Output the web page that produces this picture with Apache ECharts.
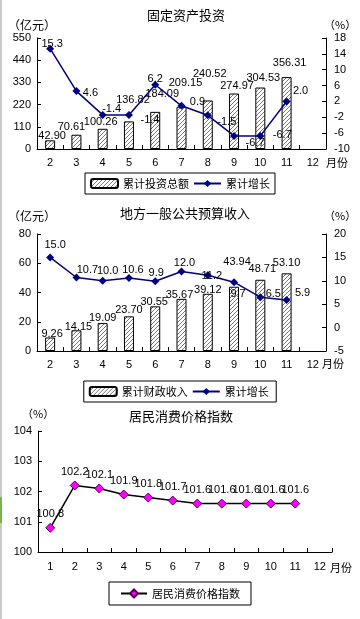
<!DOCTYPE html>
<html><head><meta charset="utf-8">
<script src="https://cdn.jsdelivr.net/npm/echarts@6/dist/echarts.min.js"></script>
<style>html,body{margin:0;padding:0;background:#fff}#c{width:360px;height:619px}</style>
</head><body><div id="c"></div>
<script>
// ---- Data ----
const months1 = ['2','3','4','5','6','7','8','9','10','11','12'];
const investTotal = [42.90, 70.61, 100.26, 136.82, 184.09, 209.15, 240.52, 274.97, 304.53, 356.31];
const investGrowth = [15.3, 4.6, -1.4, -1.4, 6.2, 0.9, -1.5, -6.7, -6.7, 2.0];
const investLeftTicks = [0, 110, 220, 330, 440, 550];
const investRightTicks = [-10, -6, -2, 2, 6, 10, 14, 18];

const months2 = ['2','3','4','5','6','7','8','9','10','11','12'];
const revenueTotal = [9.26, 14.15, 19.09, 23.70, 30.55, 35.67, 39.12, 43.94, 48.71, 53.10];
const revenueGrowth = [15.0, 10.7, 10.0, 10.6, 9.9, 12.0, 11.2, 9.7, 6.5, 5.9];
const revenueLeftTicks = [0, 20, 40, 60, 80];
const revenueRightTicks = [-5, 0, 5, 10, 15, 20];

const months3 = ['1','2','3','4','5','6','7','8','9','10','11','12'];
const cpi = [100.8, 102.2, 102.1, 101.9, 101.8, 101.7, 101.6, 101.6, 101.6, 101.6, 101.6];
const cpiTicks = [100, 101, 102, 103, 104];

// ---- Label nudges (style only, in pixels) ----
const investBarLabelNudge = [[2,1],[-5,-2],[-2,-1],[4,-16],[7,-12],[4,-18],[2,-21],[3,-2],[3,-4],[3,-9]];
const investLineLabelNudge = [[2,-5],[14,2],[9,-6],[21,5],[0,-6],[16,-4],[19,7],[21,7],[22,-1],[14,-10]];
const revenueBarLabelNudge = [[2,2],[2,2],[0,0],[0,-1],[-1,1],[-2,2],[0,2],[3,-19],[2,-5],[0,-5]];
const revenueLineLabelNudge = [[5,-12],[11,-8],[5,-10],[4,-8],[1,-8],[3,-8],[4,1],[4,12],[13,-3],[16,-7]];

// ---- Styles ----
const FONT = "'Liberation Sans', 'Noto Sans CJK SC', sans-serif";
const CJK = "'Noto Sans CJK SC', sans-serif";
const NAVY = '#000080';

function hatch(){
  const c = document.createElement('canvas');
  c.width = 4; c.height = 4;
  const x = c.getContext('2d');
  x.fillStyle = '#fff'; x.fillRect(0,0,4,4);
  x.strokeStyle = '#555'; x.lineWidth = 0.8;
  x.beginPath();
  x.moveTo(0,4); x.lineTo(4,0);
  x.moveTo(-1,1); x.lineTo(1,-1);
  x.moveTo(3,5); x.lineTo(5,3);
  x.stroke();
  return {image: c, repeat: 'repeat'};
}
const pattern = hatch();

const axisLine = {show: true, lineStyle: {color: '#000', width: 1}};
const tickIn = {show: true, inside: true, length: 4, lineStyle: {color: '#000'}};
const lbl = {color: '#000', fontSize: 11, fontFamily: FONT};

function xAxis(grid, cats, margin){
  return {type: 'category', gridIndex: grid, data: cats, boundaryGap: true,
    axisLine: axisLine, axisTick: Object.assign({}, tickIn, {alignWithLabel: false}),
    axisLabel: Object.assign({margin: margin, interval: 0}, lbl), splitLine: {show: false}};
}
function yAxis(grid, ticks, pos, margin){
  const mn = ticks[0], mx = ticks[ticks.length-1];
  return {type: 'value', gridIndex: grid, position: pos, min: mn, max: mx,
    axisLine: axisLine,
    axisTick: Object.assign({}, tickIn, {customValues: ticks}),
    axisLabel: Object.assign({margin: margin, customValues: ticks}, lbl),
    splitLine: {show: false}};
}
function withNudge(values, nudges){
  return values.map((v, i) => ({value: v, label: {offset: nudges[i]}}));
}

const chart = echarts.init(document.getElementById('c'), null, {renderer: 'canvas'});

function txt(x, y, s, size, align){
  return {type: 'text', x: x, y: y, style: {text: s, fontSize: size || 11, fontFamily: CJK,
    fill: '#000', align: align || 'left', verticalAlign: 'middle'}};
}

const barLabel = (dec) => ({show: true, position: 'top', distance: 0, color: '#000', fontSize: 11,
  fontFamily: FONT, formatter: p => p.value.toFixed(dec)});
const centerLabel = (dec) => ({show: true, position: 'inside', align: 'center', verticalAlign: 'middle',
  color: '#000', fontSize: 11, fontFamily: FONT, formatter: p => p.value.toFixed(dec)});

const option = {
  animation: false,
  backgroundColor: '#fff',
  grid: [
    {left: 37, right: 34, top: 38, height: 111},
    {left: 37, right: 34, top: 234, height: 117},
    {left: 38, right: 28, top: 431, height: 121}
  ],
  xAxis: [xAxis(0, months1, 8), xAxis(1, months2, 8), xAxis(2, months3, 9)],
  yAxis: [
    yAxis(0, investLeftTicks, 'left', 6),
    yAxis(0, investRightTicks, 'right', 8),
    yAxis(1, revenueLeftTicks, 'left', 6),
    yAxis(1, revenueRightTicks, 'right', 8),
    yAxis(2, cpiTicks, 'left', 6)
  ],
  legend: [
    {data: ['累计投资总额', '累计增长'], left: 'center', top: 173, padding: [5,5], itemGap: 4,
     itemWidth: 27, itemHeight: 9, borderColor: '#000', borderWidth: 1, selectedMode: false,
     textStyle: {fontSize: 11, fontFamily: CJK, color: '#000'}},
    {data: ['累计财政收入', '累计增长 '], left: 'center', top: 381, padding: [5,5], itemGap: 4,
     itemWidth: 27, itemHeight: 9, borderColor: '#000', borderWidth: 1, selectedMode: false,
     textStyle: {fontSize: 11, fontFamily: CJK, color: '#000'}},
    {data: ['居民消费价格指数'], left: 'center', top: 582, padding: [6,11],
     itemWidth: 26, itemHeight: 10, borderColor: '#000', borderWidth: 1, selectedMode: false,
     textStyle: {fontSize: 11, fontFamily: CJK, color: '#000'}}
  ],
  series: [
    {name: '累计投资总额', type: 'bar', xAxisIndex: 0, yAxisIndex: 0,
     data: withNudge(investTotal, investBarLabelNudge), barWidth: 10,
     itemStyle: {color: pattern, borderColor: '#000', borderWidth: 1}, label: barLabel(2)},
    {name: '累计增长', type: 'line', xAxisIndex: 0, yAxisIndex: 1,
     data: withNudge(investGrowth, investLineLabelNudge),
     symbol: 'diamond', symbolSize: 8, lineStyle: {color: NAVY, width: 1.5}, itemStyle: {color: NAVY},
     label: centerLabel(1), z: 5},
    {name: '累计财政收入', type: 'bar', xAxisIndex: 1, yAxisIndex: 2,
     data: withNudge(revenueTotal, revenueBarLabelNudge), barWidth: 10,
     itemStyle: {color: pattern, borderColor: '#000', borderWidth: 1}, label: barLabel(2)},
    {name: '累计增长 ', type: 'line', xAxisIndex: 1, yAxisIndex: 3,
     data: withNudge(revenueGrowth, revenueLineLabelNudge),
     symbol: 'diamond', symbolSize: 8, lineStyle: {color: NAVY, width: 1.5}, itemStyle: {color: NAVY},
     label: centerLabel(1), z: 5},
    {name: '居民消费价格指数', type: 'line', xAxisIndex: 2, yAxisIndex: 4, data: cpi,
     symbol: 'diamond', symbolSize: 9, lineStyle: {color: '#000', width: 1.5},
     itemStyle: {color: '#ff00ff', borderColor: '#500050', borderWidth: 1},
     label: {show: true, position: 'top', distance: 3, color: '#000', fontSize: 11, fontFamily: FONT,
       formatter: p => p.value.toFixed(1)}}
  ],
  graphic: [
    {type: 'rect', shape: {x: 0, y: 0, width: 2, height: 619}, style: {fill: '#c8c8c8'}},
    {type: 'rect', shape: {x: 0, y: 497, width: 2, height: 26}, style: {fill: '#78b446'}},
    txt(186, 15, '固定资产投资', 13, 'center'),
    txt(8, 25, '（亿元）', 12),
    txt(324, 25, '（%）', 11),
    txt(326, 163, '月份', 11),
    txt(185, 213, '地方一般公共预算收入', 13, 'center'),
    txt(8, 216, '（亿元）', 12),
    txt(324, 216, '（%）', 11),
    txt(322, 364, '月份', 11),
    txt(181, 416, '居民消费价格指数', 13, 'center'),
    txt(22, 414, '（%）', 11),
    txt(330, 568, '月份', 11)
  ]
};
chart.setOption(option);
</script>
</body></html>
